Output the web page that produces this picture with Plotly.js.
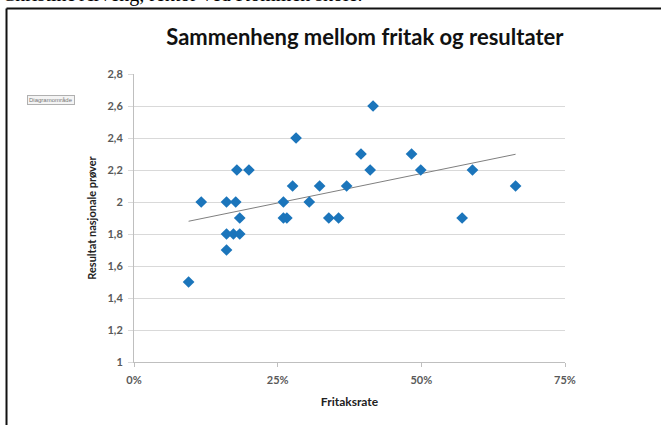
<!DOCTYPE html>
<html>
<head>
<meta charset="utf-8">
<script src="https://cdn.plot.ly/plotly-3.0.1.min.js"></script>
<style>
  html, body { margin: 0; padding: 0; background: #fff; }
  #chart { width: 661px; height: 425px; }
</style>
</head>
<body>
<div id="chart"></div>
<script>
// Data
const fritaksrate = [0.095, 0.117, 0.161, 0.177, 0.161, 0.173, 0.184, 0.161, 0.179, 0.200,
                     0.184, 0.260, 0.260, 0.266, 0.276, 0.282, 0.305, 0.323, 0.339, 0.356,
                     0.370, 0.395, 0.411, 0.416, 0.483, 0.499, 0.571, 0.589, 0.664];
const resultat    = [1.5, 2.0, 2.0, 2.0, 1.8, 1.8, 1.8, 1.7, 2.2, 2.2,
                     1.9, 2.0, 1.9, 1.9, 2.1, 2.4, 2.0, 2.1, 1.9, 1.9,
                     2.1, 2.3, 2.2, 2.6, 2.3, 2.2, 1.9, 2.2, 2.1];
const xTickVals = [0, 0.25, 0.5, 0.75];
const xTickText = ['0%', '25%', '50%', '75%'];
const yTickVals = [1, 1.2, 1.4, 1.6, 1.8, 2, 2.2, 2.4, 2.6, 2.8];
const yTickText = ['1', '1,2', '1,4', '1,6', '1,8', '2', '2,2', '2,4', '2,6', '2,8'];
const chartTitle = 'Sammenheng mellom fritak og resultater';
const xTitle = 'Fritaksrate';
const yTitle = 'Resultat nasjonale prøver';
const caption = 'Christine Arveng, rektor ved Kommen skole.';
const buttonLabel = 'Diagramområde';

// Linear trend line (least squares) derived from the data
const n = fritaksrate.length;
const mx = fritaksrate.reduce((a, b) => a + b, 0) / n;
const my = resultat.reduce((a, b) => a + b, 0) / n;
let sxy = 0, sxx = 0;
for (let i = 0; i < n; i++) {
  sxy += (fritaksrate[i] - mx) * (resultat[i] - my);
  sxx += (fritaksrate[i] - mx) ** 2;
}
const slope = sxy / sxx;
const icpt = my - slope * mx;
const xMin = Math.min(...fritaksrate), xMax = Math.max(...fritaksrate);
const trendX = [xMin, xMax];
const trendY = trendX.map(x => icpt + slope * x);

const tickFont = { family: 'Lato, "Open Sans", sans-serif', size: 11, color: '#595959', weight: 'bold' };

const traces = [
  {
    type: 'scatter', mode: 'lines', x: trendX, y: trendY,
    line: { color: '#7f7f7f', width: 1 }, hoverinfo: 'skip', showlegend: false
  },
  {
    type: 'scatter', mode: 'markers', x: fritaksrate, y: resultat,
    marker: { symbol: 'diamond', size: 9, color: '#1b75bb' }, showlegend: false
  }
];

const layout = {
  width: 661, height: 425,
  margin: { l: 134, r: 96, t: 74, b: 63 },
  paper_bgcolor: '#ffffff', plot_bgcolor: '#ffffff',
  showlegend: false,
  title: {
    text: chartTitle,
    font: { family: 'Lato, "Open Sans", sans-serif', size: 22, color: '#111', weight: 'bold' },
    x: 0.552, xanchor: 'center', y: 0.912, yanchor: 'middle'
  },
  xaxis: {
    range: [0, 0.75], tickvals: xTickVals, ticktext: xTickText,
    showgrid: false, zeroline: false, showline: true, linecolor: '#bfbfbf', linewidth: 1,
    ticks: 'outside', ticklen: 4, tickcolor: '#bfbfbf', ticklabelstandoff: 4,
    tickfont: tickFont,
    title: { text: xTitle, font: { family: 'Lato, "Open Sans", sans-serif', size: 12, color: '#222', weight: 'bold' }, standoff: 12 }
  },
  yaxis: {
    range: [1, 2.8], tickvals: yTickVals, ticktext: yTickText,
    showgrid: true, gridcolor: '#d9d9d9', gridwidth: 1, zeroline: false,
    showline: true, linecolor: '#bfbfbf', linewidth: 1,
    ticks: 'outside', ticklen: 5, tickcolor: '#d9d9d9', ticklabelstandoff: 3,
    tickfont: tickFont,
    title: { text: yTitle, font: { family: 'Lato, "Open Sans", sans-serif', size: 11, color: '#222', weight: 'bold' }, standoff: 8 }
  },
  shapes: [
    { type: 'line', xref: 'paper', yref: 'paper', x0: -0.2958, x1: 1.25, y0: 1.2274, y1: 1.2274,
      line: { color: '#111', width: 2 } },
    { type: 'line', xref: 'paper', yref: 'paper', x0: -0.2958, x1: -0.2958, y0: 1.2274, y1: -0.25,
      line: { color: '#111', width: 2 } }
  ],
  annotations: [
    { text: caption, xref: 'paper', yref: 'paper', x: -0.311, xanchor: 'left',
      y: 1.229, yanchor: 'bottom', showarrow: false,
      font: { family: '"Liberation Serif", "Times New Roman", serif', size: 20, color: '#000' } },
    { text: buttonLabel, xref: 'paper', yref: 'paper', x: -0.1926, xanchor: 'center',
      y: 0.9097, yanchor: 'middle', showarrow: false,
      font: { family: '"Liberation Sans", sans-serif', size: 6, color: '#777' },
      bgcolor: '#f4f4f4', bordercolor: '#b0b0b0', borderwidth: 1, borderpad: 1 }
  ]
};

Plotly.newPlot('chart', traces, layout, { displayModeBar: false, staticPlot: true });
</script>
</body>
</html>
